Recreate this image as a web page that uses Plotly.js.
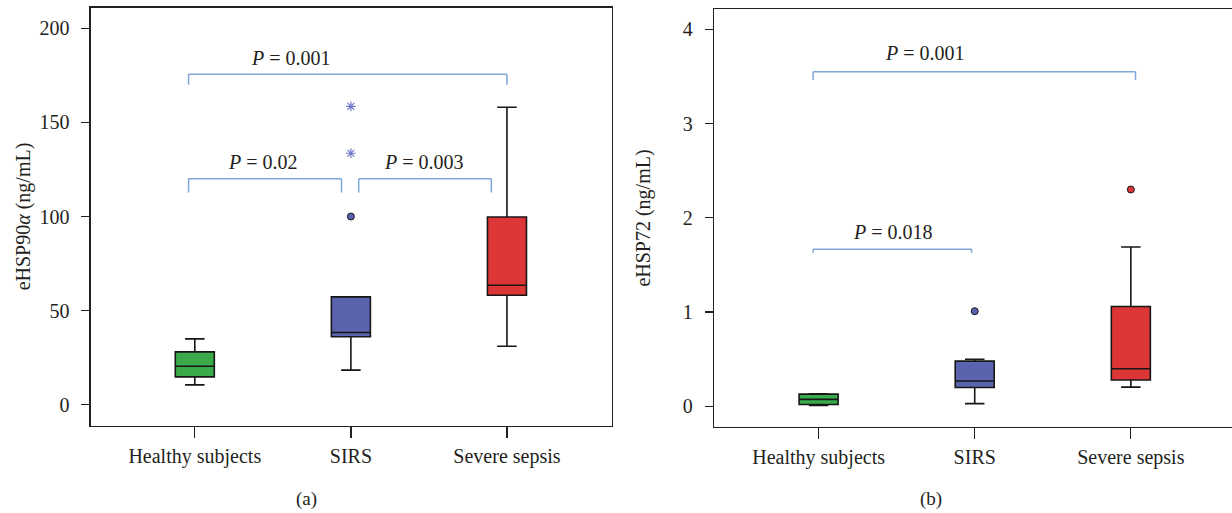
<!DOCTYPE html>
<html>
<head>
<meta charset="utf-8">
<script src="https://cdn.plot.ly/plotly-3.0.1.min.js"></script>
<style>
  html, body { margin: 0; padding: 0; background: #ffffff; }
  #chart { width: 1232px; height: 513px; }
</style>
</head>
<body>
<div id="chart"></div>
<script>
// ---------- data ----------
const categories = ['Healthy subjects', 'SIRS', 'Severe sepsis'];
const boxColors = ['#3aaa4a', '#5b63ae', '#dc3636'];

// Panel (a): eHSP90alpha (ng/mL)
const hsp90Lower  = [10.6, 18.4, 31.1];
const hsp90Q1     = [14.8, 36.1, 58.2];
const hsp90Median = [20.5, 38.4, 63.5];
const hsp90Q3     = [28.1, 57.3, 99.7];
const hsp90Upper  = [35.0, 57.3, 158.0];
const hsp90OutlierX = ['SIRS'];
const hsp90OutlierY = [100];
const hsp90ExtremeX = ['SIRS', 'SIRS'];
const hsp90ExtremeY = [133.6, 158.5];

// Panel (b): eHSP72 (ng/mL)
const hsp72Lower  = [0.010, 0.030, 0.205];
const hsp72Q1     = [0.020, 0.200, 0.280];
const hsp72Median = [0.075, 0.270, 0.400];
const hsp72Q3     = [0.130, 0.480, 1.060];
const hsp72Upper  = [0.135, 0.500, 1.690];
const hsp72OutlierX = ['SIRS', 'Severe sepsis'];
const hsp72OutlierY = [1.01, 2.30];
const hsp72OutlierColors = ['#5b63ae', '#dc3636'];

// p-value labels
const pTextsA = ['0.001', '0.02', '0.003'];
const pTextsB = ['0.001', '0.018'];

// ---------- styling helpers ----------
const FONT = '"Liberation Serif", "Times New Roman", serif';
const INK = '#231f20';
const BRACKET = '#7ea6d6';

const traces = [];
function addBoxes(xa, ya, lo, q1, med, q3, up) {
  categories.forEach((c, i) => {
    traces.push({
      type: 'box', xaxis: xa, yaxis: ya,
      x: [c], q1: [q1[i]], median: [med[i]], q3: [q3[i]],
      lowerfence: [lo[i]], upperfence: [up[i]],
      width: 0.25, whiskerwidth: 0.5,
      fillcolor: boxColors[i],
      line: { color: '#161616', width: 1.6 },
      boxpoints: false, showlegend: false, hoverinfo: 'skip'
    });
  });
}
addBoxes('x', 'y', hsp90Lower, hsp90Q1, hsp90Median, hsp90Q3, hsp90Upper);
addBoxes('x2', 'y2', hsp72Lower, hsp72Q1, hsp72Median, hsp72Q3, hsp72Upper);

traces.push({
  type: 'scatter', mode: 'markers', xaxis: 'x', yaxis: 'y',
  x: hsp90OutlierX, y: hsp90OutlierY,
  marker: { symbol: 'circle', size: 7, color: '#5b63ae', line: { color: '#161616', width: 1 } },
  showlegend: false, hoverinfo: 'skip'
});
traces.push({
  type: 'scatter', mode: 'markers', xaxis: 'x', yaxis: 'y',
  x: hsp90ExtremeX, y: hsp90ExtremeY,
  marker: { symbol: 'asterisk-open', size: 8, color: '#7078c8', line: { color: '#7078c8', width: 1.2 } },
  showlegend: false, hoverinfo: 'skip'
});
traces.push({
  type: 'scatter', mode: 'markers', xaxis: 'x2', yaxis: 'y2',
  x: hsp72OutlierX, y: hsp72OutlierY,
  marker: { symbol: 'circle', size: 7, color: hsp72OutlierColors, line: { color: '#161616', width: 1 } },
  showlegend: false, hoverinfo: 'skip'
});

// ---------- brackets ----------
const shapes = [];
function bracket(xref, yref, x0, x1, yTop, yLeg) {
  const ln = { color: BRACKET, width: 1.5 };
  shapes.push({ type: 'line', xref, yref, x0: x0, x1: x1, y0: yTop, y1: yTop, line: ln });
  shapes.push({ type: 'line', xref, yref, x0: x0, x1: x0, y0: yTop, y1: yLeg, line: ln });
  shapes.push({ type: 'line', xref, yref, x0: x1, x1: x1, y0: yTop, y1: yLeg, line: ln });
}
bracket('x', 'y', -0.04, 2.0, 175.5, 170);
bracket('x', 'y', -0.04, 0.94, 120, 112.8);
bracket('x', 'y', 1.05, 1.90, 120, 112.8);
bracket('x2', 'y2', -0.035, 2.03, 3.55, 3.46);
bracket('x2', 'y2', -0.035, 0.98, 1.666, 1.63);

function pAnn(xref, yref, x, y, val) {
  return { xref, yref, x, y, text: '<i>P</i> = ' + val, showarrow: false,
           xanchor: 'center', yanchor: 'middle',
           font: { family: FONT, size: 20, color: INK } };
}
const annotations = [
  pAnn('x', 'y', 0.618, 184.1, pTextsA[0]),
  pAnn('x', 'y', 0.44, 128.8, pTextsA[1]),
  pAnn('x', 'y', 1.467, 128.8, pTextsA[2]),
  pAnn('x2', 'y2', 0.683, 3.745, pTextsB[0]),
  pAnn('x2', 'y2', 0.479, 1.853, pTextsB[1]),
  { xref: 'paper', yref: 'paper', x: 306 / 1232, y: 1 - 499 / 513, text: '(a)', showarrow: false,
    xanchor: 'center', yanchor: 'middle', font: { family: FONT, size: 19, color: INK } },
  { xref: 'paper', yref: 'paper', x: 931 / 1232, y: 1 - 499 / 513, text: '(b)', showarrow: false,
    xanchor: 'center', yanchor: 'middle', font: { family: FONT, size: 19, color: INK } }
];

const tickFont = { family: FONT, size: 20, color: INK };
const xCommon = {
  type: 'category', categoryorder: 'array', categoryarray: categories,
  showline: true, linecolor: INK, linewidth: 1.3,
  ticks: 'outside', ticklen: 11, tickwidth: 1.3, tickcolor: INK,
  showgrid: false, zeroline: false, tickfont: tickFont, ticklabelstandoff: 1,
  fixedrange: true
};
const yCommon = {
  showline: true, linecolor: INK, linewidth: 1.3,
  ticks: 'outside', ticklen: 8, tickwidth: 1.3, tickcolor: INK,
  showgrid: false, zeroline: false, tickfont: tickFont, ticklabelstandoff: 8,
  fixedrange: true
};

const layout = {
  width: 1232, height: 513,
  margin: { l: 0, r: 0, t: 0, b: 0 },
  paper_bgcolor: '#ffffff', plot_bgcolor: '#ffffff',
  showlegend: false,
  xaxis: Object.assign({}, xCommon, { domain: [90.7 / 1232, 612 / 1232], range: [-0.667, 2.673], anchor: 'y', mirror: true }),
  yaxis: Object.assign({}, yCommon, {
    domain: [1 - 425.5 / 513, 1 - 7.5 / 513], range: [-11, 211], anchor: 'x', mirror: true,
    tickvals: [0, 50, 100, 150, 200],
    title: { text: 'eHSP90<i>α</i> (ng/mL)', font: { family: FONT, size: 20, color: INK }, standoff: 3 }
  }),
  xaxis2: Object.assign({}, xCommon, { domain: [714 / 1232, 1], range: [-0.670, 2.648], anchor: 'y2', mirror: true }),
  yaxis2: Object.assign({}, yCommon, {
    domain: [1 - 426.8 / 513, 1 - 9.2 / 513], range: [-0.216, 4.212], anchor: 'x2', mirror: false,
    tickvals: [0, 1, 2, 3, 4],
    title: { text: 'eHSP72 (ng/mL)', font: { family: FONT, size: 20, color: INK }, standoff: 26 }
  }),
  shapes: shapes,
  annotations: annotations
};

Plotly.newPlot('chart', traces, layout, { displayModeBar: false, staticPlot: true });
</script>
</body>
</html>
